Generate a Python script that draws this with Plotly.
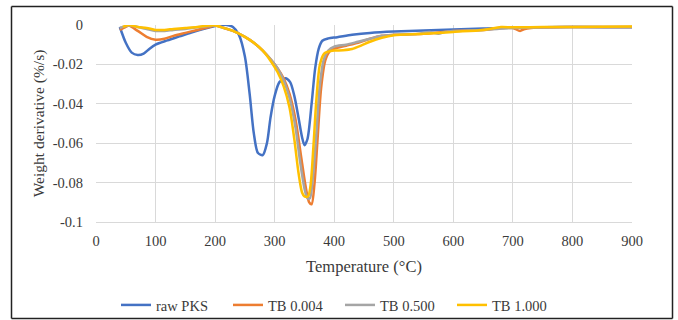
import plotly.graph_objects as go

# ---- data ----
raw_T = [40, 50, 60, 70, 80, 90, 100, 120, 140, 160, 180, 200, 210, 220, 230, 240, 250, 258, 265, 272, 280, 287, 293, 300, 308, 318, 326, 333, 340, 346, 350, 355, 362, 368, 374, 380, 390, 405, 430, 460, 500, 550, 600, 650, 700, 800, 900]
raw_V = [-0.001, -0.009, -0.014, -0.0152, -0.0145, -0.012, -0.010, -0.0078, -0.0058, -0.0038, -0.002, -0.0005, 0.0, 0.0, -0.001, -0.005, -0.016, -0.035, -0.055, -0.065, -0.066, -0.060, -0.047, -0.036, -0.029, -0.027, -0.029, -0.036, -0.047, -0.057, -0.061, -0.058, -0.040, -0.022, -0.012, -0.008, -0.0068, -0.0062, -0.005, -0.004, -0.0033, -0.0028, -0.0023, -0.0018, -0.0013, -0.001, -0.0012]

tb004_T = [40, 50, 55, 70, 85, 100, 115, 130, 150, 170, 190, 200, 215, 230, 250, 265, 280, 295, 305, 315, 325, 335, 345, 352, 358, 362, 367, 372, 378, 385, 392, 400, 420, 440, 460, 480, 500, 550, 600, 650, 680, 700, 712, 720, 750, 800, 900]
tb004_V = [-0.0025, -0.001, -0.0003, -0.003, -0.006, -0.0075, -0.007, -0.0055, -0.004, -0.0025, -0.001, -0.0003, -0.0015, -0.003, -0.006, -0.009, -0.013, -0.018, -0.022, -0.027, -0.035, -0.048, -0.068, -0.082, -0.090, -0.091, -0.080, -0.058, -0.032, -0.018, -0.0135, -0.012, -0.0105, -0.009, -0.007, -0.0055, -0.005, -0.0045, -0.003, -0.0025, -0.0015, -0.0015, -0.003, -0.002, -0.0012, -0.001, -0.001]

tb050_T = [40, 55, 70, 85, 100, 115, 130, 150, 170, 190, 200, 215, 230, 250, 265, 280, 295, 305, 315, 325, 335, 343, 350, 355, 359, 364, 370, 376, 383, 390, 400, 420, 440, 460, 480, 500, 540, 560, 575, 585, 600, 650, 700, 750, 800, 900]
tb050_V = [-0.0015, -0.0003, -0.001, -0.002, -0.003, -0.003, -0.0025, -0.002, -0.0012, -0.0005, -0.0002, -0.0015, -0.003, -0.006, -0.009, -0.013, -0.018, -0.022, -0.028, -0.037, -0.052, -0.070, -0.083, -0.088, -0.088, -0.078, -0.055, -0.030, -0.017, -0.013, -0.011, -0.010, -0.0085, -0.007, -0.0055, -0.005, -0.0045, -0.0035, -0.0045, -0.0035, -0.003, -0.0025, -0.0015, -0.0012, -0.001, -0.001]

tb100_T = [45, 55, 70, 85, 100, 115, 130, 150, 170, 190, 200, 215, 230, 250, 265, 280, 295, 305, 315, 325, 333, 340, 346, 350, 356, 360, 365, 370, 376, 383, 390, 400, 415, 430, 445, 460, 480, 500, 550, 600, 650, 680, 700, 750, 800, 900]
tb100_V = [-0.001, 0.0, -0.001, -0.0015, -0.0025, -0.0025, -0.002, -0.0015, -0.001, -0.0003, -0.0002, -0.0015, -0.003, -0.006, -0.009, -0.013, -0.019, -0.024, -0.031, -0.042, -0.058, -0.075, -0.085, -0.087, -0.087, -0.082, -0.062, -0.038, -0.020, -0.0145, -0.0135, -0.013, -0.0128, -0.0122, -0.0105, -0.0085, -0.0065, -0.0052, -0.0045, -0.0035, -0.0025, -0.001, -0.0012, -0.001, -0.001, -0.0008]

series_names = ["raw PKS", "TB 0.004", "TB 0.500", "TB 1.000"]
series_colors = ["#4472C4", "#ED7D31", "#A5A5A5", "#FFC000"]

x_ticks = [0, 100, 200, 300, 400, 500, 600, 700, 800, 900]
y_ticks = [0, -0.02, -0.04, -0.06, -0.08, -0.1]
y_tick_labels = ["0", "-0.02", "-0.04", "-0.06", "-0.08", "-0.1"]

fig = go.Figure()
for (T, V), name, color in zip(
    [(raw_T, raw_V), (tb004_T, tb004_V), (tb050_T, tb050_V), (tb100_T, tb100_V)],
    series_names, series_colors):
    fig.add_trace(go.Scatter(x=T, y=V, mode="lines", name=name,
                             line=dict(color=color, width=2.5, shape="spline", smoothing=0.8)))

font_family = "Liberation Serif"
txt_color = "#3a3a3a"
W, H = 678, 320

# plot area in pixels
L, R, T0, B0 = 96, 632, 25, 222
def px_x(p):
    return (p - L) / (R - L)
def px_y(p):
    return (B0 - p) / (B0 - T0)
fx0, fx1, fy0, fy1 = px_x(11.5), px_x(672.5), px_y(318.5), px_y(6.5)
frame = [
    dict(type="line", xref="paper", yref="paper", x0=fx0, x1=fx1, y0=fy1, y1=fy1),
    dict(type="line", xref="paper", yref="paper", x0=fx0, x1=fx1, y0=fy0, y1=fy0),
    dict(type="line", xref="paper", yref="paper", x0=fx0, x1=fx0, y0=fy0, y1=fy1),
    dict(type="line", xref="paper", yref="paper", x0=fx1, x1=fx1, y0=fy0, y1=fy1),
]
for s in frame:
    s["line"] = dict(color="#222222", width=1.5)

fig.update_layout(
    width=W, height=H,
    margin=dict(l=L, r=W - R, t=T0, b=H - B0, autoexpand=False),
    paper_bgcolor="white", plot_bgcolor="white",
    font=dict(family=font_family, size=14.5, color=txt_color),
    showlegend=True,
    legend=dict(orientation="h", xref="container", yref="container",
                x=116 / W, xanchor="left", y=1 - 305 / H, yanchor="middle",
                bgcolor="rgba(0,0,0,0)",
                font=dict(family=font_family, size=14.5, color=txt_color),
                entrywidth=67, entrywidthmode="pixels", itemwidth=30, tracegroupgap=0),
    xaxis=dict(range=[0, 900], tickvals=x_ticks, showgrid=True, gridcolor="#D9D9D9", gridwidth=1,
               zeroline=False, showline=True, linecolor="#D9D9D9", linewidth=1, automargin=False,
               ticks="", ticklabelstandoff=6, tickfont=dict(size=14.5, color=txt_color),
               title=dict(text="Temperature (°C)", font=dict(size=16.5, color=txt_color), standoff=12)),
    yaxis=dict(range=[-0.1, 0], tickvals=y_ticks, ticktext=y_tick_labels, showgrid=True,
               gridcolor="#D9D9D9", gridwidth=1, zeroline=False, showline=False, automargin=False,
               ticks="", ticklabelstandoff=12, tickfont=dict(size=14.5, color=txt_color),
               title=dict(text="Weight derivative (%/s)", font=dict(size=15.5, color=txt_color), standoff=4)),
    shapes=frame,
)

fig.write_html("out.html", config={"displayModeBar": False},
               post_script="document.body.style.margin='0px';")
